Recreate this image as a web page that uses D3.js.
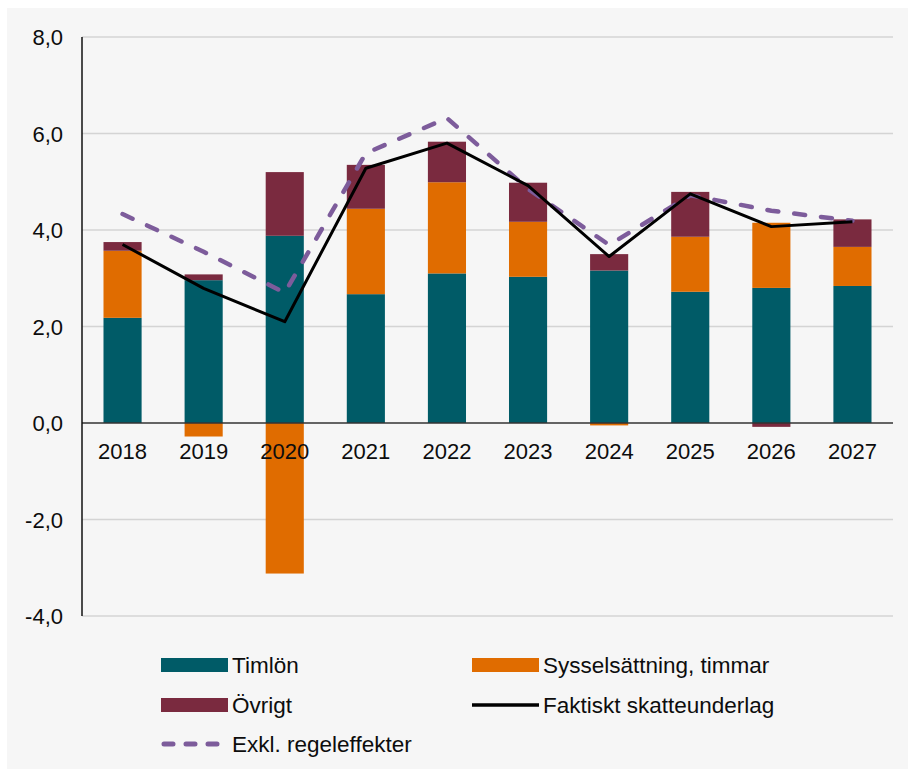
<!DOCTYPE html>
<html><head><meta charset="utf-8">
<script src="https://cdn.jsdelivr.net/npm/d3@7"></script>
<style>
html,body{margin:0;padding:0;background:#fff;}
svg text{font-family:"Liberation Sans",Arial,sans-serif;fill:#0d0d0d;}
</style></head>
<body>
<svg id="chart" width="908" height="769"></svg>
<script>
const years = ["2018","2019","2020","2021","2022","2023","2024","2025","2026","2027"];
const timlon = [2.18, 2.96, 3.88, 2.67, 3.10, 3.03, 3.16, 2.72, 2.80, 2.84];
const syssel = [1.39, -0.28, -3.12, 1.77, 1.89, 1.14, -0.05, 1.14, 1.35, 0.81];
const ovrigt = [0.18, 0.12, 1.32, 0.91, 0.84, 0.81, 0.34, 0.93, -0.08, 0.57];
const faktiskt = [3.70, 2.79, 2.10, 5.28, 5.80, 4.92, 3.45, 4.75, 4.07, 4.17];
const exkl = [4.33, 3.55, 2.70, 5.59, 6.32, 4.85, 3.69, 4.72, 4.40, 4.19];
const yTicks = [-4, -2, 0, 2, 4, 6, 8];

const C = {teal:"#005b67", orange:"#e06c00", maroon:"#7a2a3f", purple:"#7d5c9b"};
const svg = d3.select("#chart");
svg.append("rect").attr("x",7).attr("y",8).attr("width",901).attr("height",761).attr("fill","#f6f6f6");

const x = d3.scaleBand().domain(years).range([82,893]).paddingInner(0.53).paddingOuter(0.265);
const y = d3.scaleLinear().domain([-4,8]).range([616,37]);

// grid
svg.append("g").selectAll("line").data(yTicks.filter(d=>d!==0)).join("line")
  .attr("x1",82).attr("x2",893).attr("y1",d=>y(d)).attr("y2",d=>y(d))
  .attr("stroke","#d4d4d4").attr("stroke-width",1.5);

// stacked bars
const series = [{k:"Timlön",v:timlon,c:C.teal},{k:"Sysselsättning, timmar",v:syssel,c:C.orange},{k:"Övrigt",v:ovrigt,c:C.maroon}];
const bars = [];
years.forEach((yr,i)=>{
  let pos=0, neg=0;
  series.forEach(s=>{
    const v=s.v[i];
    let a,b;
    if(v>=0){a=pos;b=pos+v;pos=b;} else {a=neg;b=neg+v;neg=b;}
    bars.push({yr,a,b,c:s.c});
  });
});
svg.append("g").selectAll("rect").data(bars).join("rect")
  .attr("x",d=>x(d.yr)).attr("width",x.bandwidth())
  .attr("y",d=>y(Math.max(d.a,d.b))).attr("height",d=>Math.abs(y(d.a)-y(d.b)))
  .attr("fill",d=>d.c);

// zero line & y axis
svg.append("line").attr("x1",82).attr("x2",893).attr("y1",y(0)).attr("y2",y(0)).attr("stroke","#333").attr("stroke-width",1.5);
svg.append("line").attr("x1",82).attr("x2",82).attr("y1",y(8)).attr("y2",y(-4)).attr("stroke","#111").attr("stroke-width",1.5);

// lines
const cx = d=>x(d)+x.bandwidth()/2;
const lineGen = arr => d3.line().x((d,i)=>cx(years[i])).y(d=>y(d))(arr);
svg.append("path").attr("d",lineGen(exkl)).attr("fill","none").attr("stroke",C.purple)
  .attr("stroke-width",4.5).attr("stroke-dasharray","11,16").attr("stroke-linecap","round").attr("stroke-linejoin","round");
svg.append("path").attr("d",lineGen(faktiskt)).attr("fill","none").attr("stroke","#000")
  .attr("stroke-width",3).attr("stroke-linejoin","round");

// y tick labels
svg.append("g").selectAll("text").data(yTicks).join("text")
  .attr("x",63).attr("y",d=>y(d)+8).attr("text-anchor","end").attr("font-size",22)
  .text(d=>d.toFixed(1).replace(".",","));
// x labels
svg.append("g").selectAll("text").data(years).join("text")
  .attr("x",d=>cx(d)).attr("y",459).attr("text-anchor","middle").attr("font-size",22).text(d=>d);

// legend
const lg = svg.append("g");
const items = [
  {t:"Timlön",type:"rect",c:C.teal,x:161,y:665},
  {t:"Sysselsättning, timmar",type:"rect",c:C.orange,x:472,y:665},
  {t:"Övrigt",type:"rect",c:C.maroon,x:161,y:705},
  {t:"Faktiskt skatteunderlag",type:"line",c:"#000",x:472,y:705},
  {t:"Exkl. regeleffekter",type:"dash",c:C.purple,x:161,y:744}
];
items.forEach(it=>{
  if(it.type==="rect") lg.append("rect").attr("x",it.x).attr("y",it.y-7).attr("width",67).attr("height",14).attr("fill",it.c);
  else if(it.type==="line") lg.append("line").attr("x1",it.x).attr("x2",it.x+67).attr("y1",it.y).attr("y2",it.y).attr("stroke",it.c).attr("stroke-width",3.5);
  else lg.append("line").attr("x1",it.x+3).attr("x2",it.x+65).attr("y1",it.y).attr("y2",it.y).attr("stroke",it.c).attr("stroke-width",5).attr("stroke-dasharray","9,13").attr("stroke-linecap","round");
  lg.append("text").attr("x",it.x+71).attr("y",it.y+8).attr("font-size",22.5).text(it.t);
});
</script>
</body></html>
